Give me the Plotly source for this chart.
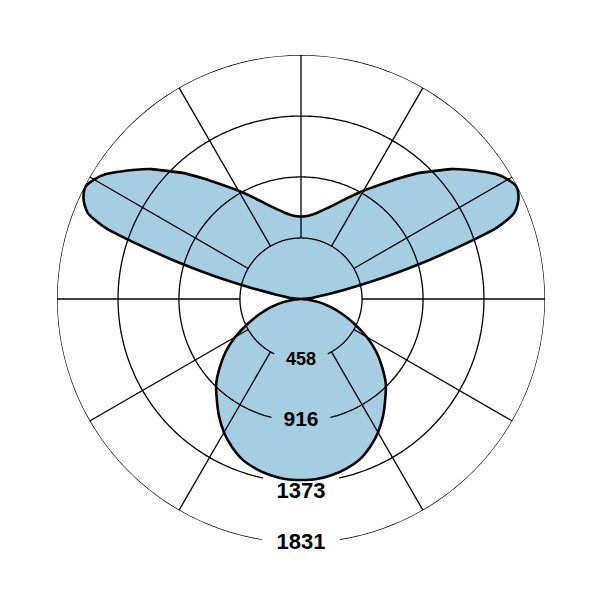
import plotly.graph_objects as go

# Photometric data: gamma angle (deg, 0 = nadir) and luminous intensity (cd)
gamma = [0, 5, 10, 15, 20, 25, 30, 35, 40, 45, 50, 55, 60, 65, 70, 75, 80, 85, 90,
         95, 100, 102.5, 104, 105.5, 107, 109, 110, 111, 112, 113.5, 115, 117.5, 120, 122.5,
         125, 128, 131, 134, 137.5, 141, 145, 150, 155, 160, 165, 170, 175, 180]
intensity = [1358, 1356, 1341, 1317, 1283, 1225, 1156, 1073, 983, 900, 795, 690, 570,
             443, 330, 233, 135, 45, 0,
             60, 188, 375, 563, 773, 1021, 1381, 1561, 1658, 1726, 1771, 1801, 1824, 1793,
             1741, 1666, 1576, 1486, 1381, 1276, 1163, 1051, 938, 840, 758, 698, 653,
             627, 618]

ring_values = [458, 916, 1373, 1831]
ring_labels = ["458", "916", "1373", "1831"]
spoke_angles = [30, 60, 90, 120, 150, 180, 210, 240, 270, 300, 330]

R_MAX = 1831
label_gap_deg = [26, 14, 12, 9.2]
label_sizes = [18, 21, 22, 22]
label_pos = ["middle center", "middle center", "bottom center", "middle center"]

theta_full = list(gamma) + [-g for g in reversed(gamma)]
r_full = list(intensity) + list(reversed(intensity))

fig = go.Figure()
fig.add_trace(go.Scatterpolar(
    theta=theta_full, r=r_full, mode="lines", fill="toself",
    fillcolor="#a6cee3", line=dict(color="black", width=2.6, shape="spline", smoothing=0.8),
    hoverinfo="skip", showlegend=False))

# rings (with gaps where the labels sit)
for val, gap in zip(ring_values, label_gap_deg):
    n = 361
    th = [gap + (360 - 2 * gap) * i / (n - 1) for i in range(n)]
    fig.add_trace(go.Scatterpolar(theta=th, r=[val] * n, mode="lines",
                                  line=dict(color="black", width=1.3),
                                  hoverinfo="skip", showlegend=False))

# spokes
for a in spoke_angles:
    fig.add_trace(go.Scatterpolar(theta=[a, a], r=[ring_values[0], ring_values[-1]],
                                  mode="lines", line=dict(color="black", width=1.3),
                                  hoverinfo="skip", showlegend=False))

# labels
fig.add_trace(go.Scatterpolar(
    theta=[0] * len(ring_values), r=ring_values, mode="text", text=ring_labels,
    textposition=label_pos,
    textfont=dict(family="Liberation Sans", size=label_sizes, color="black", weight="bold"),
    hoverinfo="skip", showlegend=False, cliponaxis=False))

# page has an 8px body margin; place center at (301, 299) in the window
cx, cy, rad = 301 - 8, 299 - 8, 244
W = H = 601
fig.update_layout(
    width=W, height=H, margin=dict(l=0, r=0, t=0, b=0),
    paper_bgcolor="white", plot_bgcolor="white", showlegend=False,
    polar=dict(
        domain=dict(x=[(cx - rad) / W, (cx + rad) / W],
                    y=[(H - cy - rad) / H, (H - cy + rad) / H]),
        bgcolor="white",
        radialaxis=dict(range=[0, R_MAX], visible=False, showgrid=False),
        angularaxis=dict(rotation=-90, direction="counterclockwise", visible=False,
                         showgrid=False, showline=False, showticklabels=False, ticks=""),
    ),
)
fig.write_html("out.html")
